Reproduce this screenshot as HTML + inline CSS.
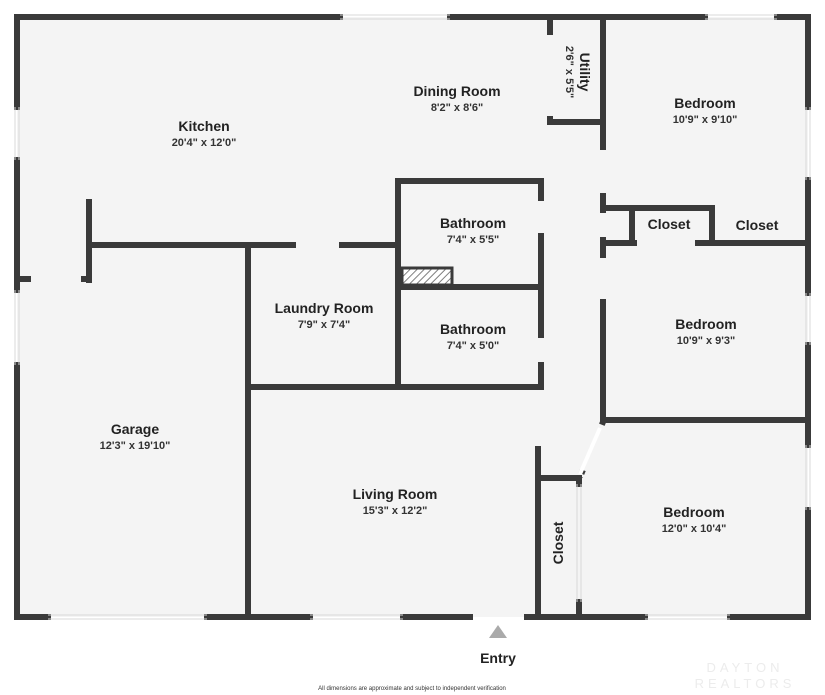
<!DOCTYPE html>
<html><head><meta charset="utf-8"><style>
html,body{margin:0;padding:0;background:#fff;width:825px;height:695px;overflow:hidden}
svg{display:block}
text{font-family:"Liberation Sans","DejaVu Sans",sans-serif;fill:#222;text-anchor:middle}
.n{font-size:14px;font-weight:bold}
.d{font-size:11px;font-weight:bold;fill:#333}
</style></head><body>
<svg width="825" height="695" viewBox="0 0 825 695">
<defs><pattern id="h" width="5" height="5" patternUnits="userSpaceOnUse" patternTransform="rotate(45)"><rect width="5" height="5" fill="#fff"/><line x1="0" y1="0" x2="0" y2="5" stroke="#555" stroke-width="1.5"/></pattern></defs>
<rect x="17" y="17" width="791" height="600" fill="#f4f4f4"/>
<g stroke="#3a3a3a" stroke-width="6" stroke-linecap="square" fill="none">
<path d="M17 17H340M450 17H705M777 17H808"/>
<path d="M17 17V107M17 160V290M17 365V617"/>
<path d="M808 17V107M808 180V293M808 345V445M808 510V617"/>
<path d="M17 617H48M207 617H310M403 617H470M527 617H645M730 617H808"/>
<path d="M89 202V280M89 245H293M342 245H398M17 279H28M84 279H89"/>
<path d="M248 245V617"/>
<path d="M398 181H541V198M541 236V335M541 365V387M248 387H541M398 181V387M398 287H541"/>
<path d="M550 17V32M550 119V122H603"/>
<path d="M603 17V147M603 196V210M603 240V255M603 302V420"/>
<path d="M603 208H712M632 208V241M712 208V243M603 243H634M698 243H808"/>
<path d="M603 420H808"/>
<path d="M538 449V617M538 478H579V484M579 602V617"/>
</g>
<g stroke="#d8d8d8" stroke-width="1">
<path d="M340 15H450M340 19H450M705 15H777M705 19H777M15 107V160M19 107V160M15 290V365M19 290V365M806 107V180M810 107V180M806 293V345M810 293V345M806 445V510M810 445V510M48 615H207M48 619H207M310 615H403M310 619H403M645 615H730M645 619H730M577 484V602M581 484V602"/>
</g>
<line x1="603" y1="422" x2="580" y2="477" stroke="#3a3a3a" stroke-width="6" stroke-dasharray="3 49 4"/>
<line x1="600" y1="428" x2="580" y2="474" stroke="#fff" stroke-width="4"/>
<rect x="402" y="268" width="50" height="17" fill="url(#h)" stroke="#3a3a3a" stroke-width="3"/>
<polygon points="498,625 489,638 507,638" fill="#aaa"/>
<text class="n" x="204" y="131">Kitchen</text><text class="d" x="204" y="146">20'4" x 12'0"</text>
<text class="n" x="457" y="96">Dining Room</text><text class="d" x="457" y="111">8'2" x 8'6"</text>
<g transform="translate(580,72) rotate(90)"><text class="n" x="0" y="0">Utility</text><text class="d" x="0" y="14">2'6" x 5'5"</text></g>
<text class="n" x="705" y="108">Bedroom</text><text class="d" x="705" y="123">10'9" x 9'10"</text>
<text class="n" x="473" y="228">Bathroom</text><text class="d" x="473" y="243">7'4" x 5'5"</text>
<text class="n" x="669" y="229">Closet</text><text class="n" x="757" y="230">Closet</text>
<text class="n" x="324" y="313">Laundry Room</text><text class="d" x="324" y="328">7'9" x 7'4"</text>
<text class="n" x="706" y="329">Bedroom</text><text class="d" x="706" y="344">10'9" x 9'3"</text>
<text class="n" x="473" y="334">Bathroom</text><text class="d" x="473" y="349">7'4" x 5'0"</text>
<text class="n" x="135" y="434">Garage</text><text class="d" x="135" y="449">12'3" x 19'10"</text>
<text class="n" x="395" y="499">Living Room</text><text class="d" x="395" y="514">15'3" x 12'2"</text>
<text class="n" x="694" y="517">Bedroom</text><text class="d" x="694" y="532">12'0" x 10'4"</text>
<g transform="translate(563,543) rotate(-90)"><text class="n" x="0" y="0">Closet</text></g>
<text class="n" x="498" y="663">Entry</text>
<text x="412" y="690" style="font-size:6px;fill:#333">All dimensions are approximate and subject to independent verification</text>
<text x="745" y="672" style="font-size:13px;fill:#ececec;letter-spacing:4px">DAYTON</text>
<text x="745" y="688" style="font-size:13px;fill:#ececec;letter-spacing:4px">REALTORS</text>
</svg>
</body></html>
